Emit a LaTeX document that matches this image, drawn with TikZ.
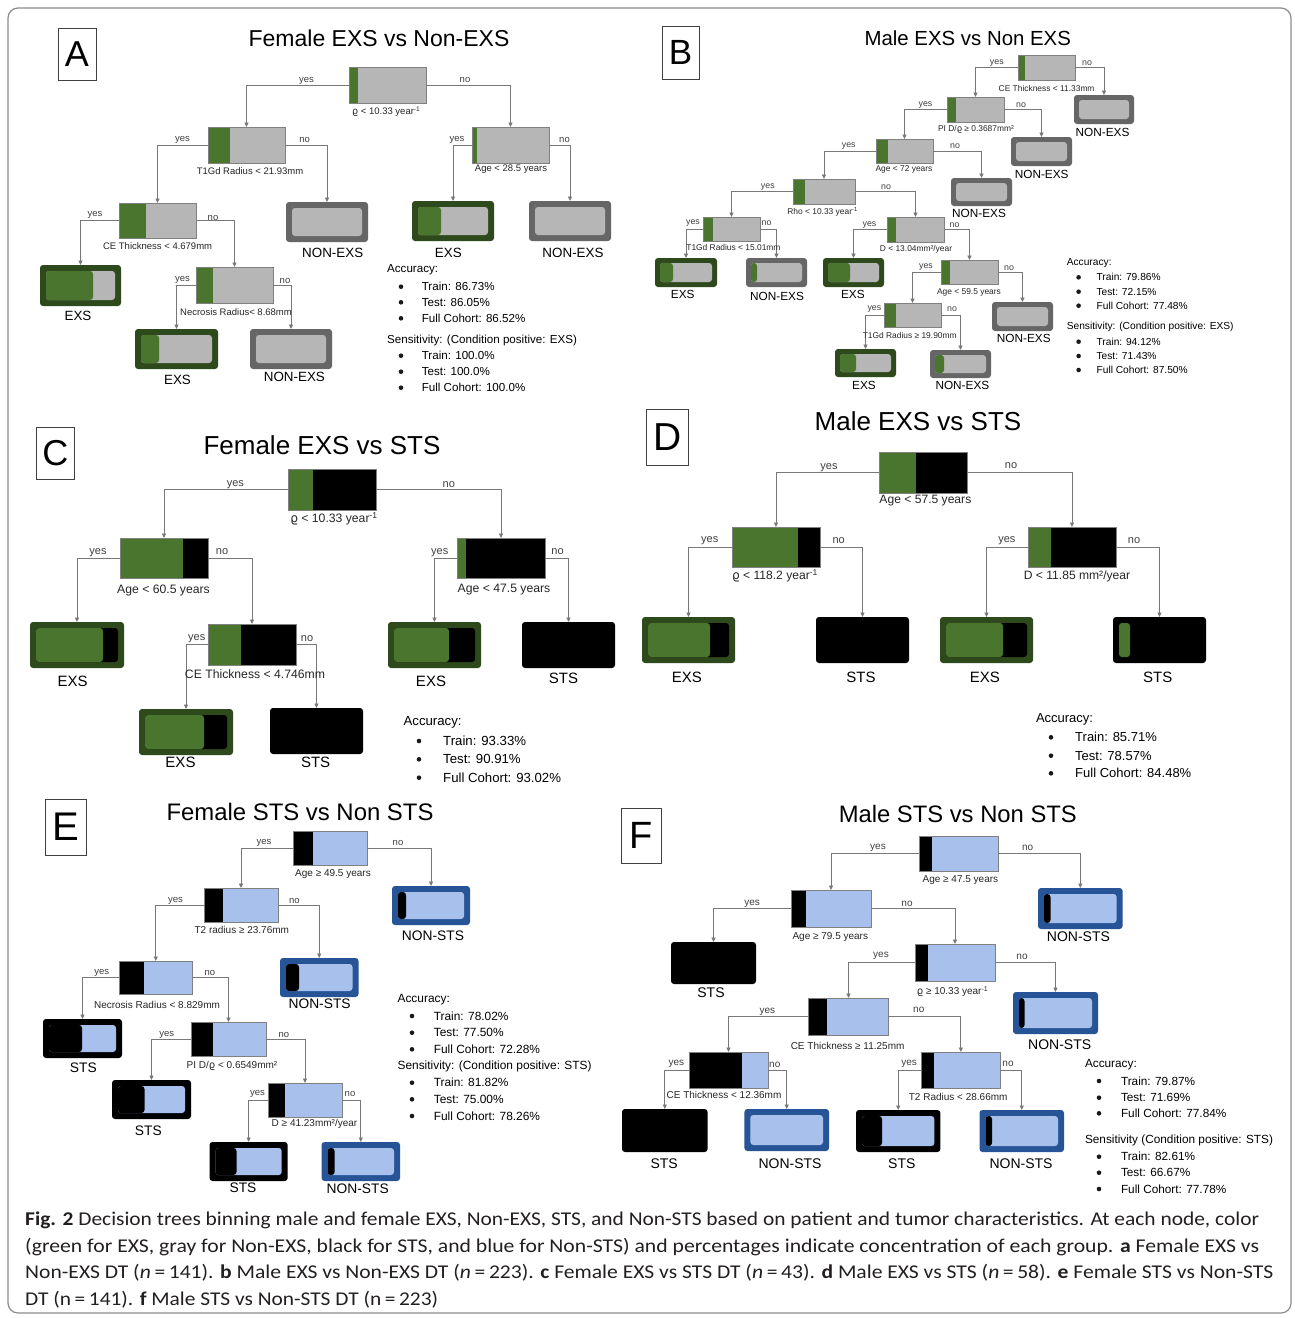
\documentclass[tikz,border=0pt]{standalone}
\usepackage{fontspec}
\usepackage{graphicx}
\setmainfont{Liberation Sans}
\newfontfamily\dvfont{DejaVu Sans}
\newfontfamily\capf{Carlito}
\usetikzlibrary{arrows.meta}
\newcommand\fsz[1]{\fontsize{#1}{#1}\selectfont}
\newcommand\rhoo{{\dvfont ϱ}}
\definecolor{gr}{RGB}{74,117,46}
\definecolor{gb}{RGB}{46,74,28}
\definecolor{gy}{RGB}{182,182,182}
\definecolor{gyb}{RGB}{102,102,102}
\definecolor{bl}{RGB}{168,192,236}
\definecolor{blb}{RGB}{38,84,150}
\definecolor{ln}{RGB}{120,120,120}
\definecolor{ol}{RGB}{128,128,128}
\definecolor{captx}{RGB}{35,31,32}
\def\lfin{6}
% decision box: name, x1,y1,x2,y2, left colour, right colour, left width
\newcommand\dnode[8]{\node[dbox,fill=#7,minimum width={#4-#2},minimum height={#5-#3},
  path picture={\fill[#6] (path picture bounding box.south west) rectangle ([xshift=#8pt]path picture bounding box.north west);}]
  (#1) at ({(#2+#4)/2},{(#3+#5)/2}) {};}
% leaf box: name, x1,y1,x2,y2, border colour, left colour, right colour, left width
\newcommand\lnode[9]{\node[lbox,fill=#6,minimum width={#4-#2},minimum height={#5-#3},
  path picture={\fill[#8] ([shift={(\lfin pt,\lfin pt)}]path picture bounding box.south west) rectangle ([shift={(-\lfin pt,-\lfin pt)}]path picture bounding box.north east);
  \fill[#7] ([shift={(\lfin pt,\lfin pt)}]path picture bounding box.south west) rectangle ([shift={(\lfin pt+#9pt,-\lfin pt)}]path picture bounding box.north west);}]
  (#1) at ({(#2+#4)/2},{(#3+#5)/2}) {};}
% bullet line: name, bullet x, text x, y, size, text
\newcommand\bline[6]{\node[bdot] (#1b) at (#2,#4) {};
  \node[sttl=#5,anchor=west] (#1) at (#3,#4) {#6};}
\tikzset{
  dbox/.style={draw=ol,line width=0.9pt,inner sep=0pt,outer sep=0pt},
  lbox/.style={rounded corners=3pt,inner sep=0pt,outer sep=0pt},
  conn/.style={draw=ln,line width=0.9pt,-{Triangle[length=4.5pt,width=4pt]}},
  cnd/.style={inner sep=0pt,font=\fsz{#1},text=black!85,yshift=-1pt},
  yn/.style={inner sep=0pt,font=\fsz{#1},text=black!75},
  lfl/.style={inner sep=0pt,font=\fsz{#1}},
  sttl/.style={inner sep=0pt,font=\fsz{#1}},
  ttl/.style={inner sep=0pt,font=\fsz{#1}},
  bdot/.style={circle,fill=black!90,inner sep=0pt,minimum size=4.6pt},
  letr/.style={draw=black!75,line width=0.8pt,inner sep=0pt,font=\fsz{#1}},
  capl/.style={inner sep=0pt,anchor=west,text=captx},
}
\begin{document}
\begin{tikzpicture}[x=1pt,y=-1pt]
\fill[white] (0,0) rectangle (1295,1318);
\useasboundingbox (0,0) rectangle (1295,1318);
\draw[draw=black!45,line width=1.2pt,rounded corners=10pt] (8,8) rectangle (1291,1313);

%%%%%%%%%%%%%%%% Panel A
\node[letr=36,minimum width=38,minimum height=52] (Alet) at (77,54) {A};
\node[ttl=23] (Atitle) at (379,38) {Female EXS vs Non-EXS};
\def\lfin{6}
\dnode{a1}{349}{67}{426}{103}{gr}{gy}{9}
\dnode{a2}{208}{127}{285}{163}{gr}{gy}{22}
\dnode{a3}{472}{127}{549}{163}{gr}{gy}{5}
\dnode{a4}{119}{203}{196}{238}{gr}{gy}{27}
\lnode{a5}{286}{202}{368}{242}{gyb}{gy}{gy}{0}
\lnode{a6}{412}{201}{494}{241}{gb}{gr}{gy}{23}
\lnode{a7}{529}{201}{611}{241}{gyb}{gy}{gy}{0}
\lnode{a8}{40}{265}{121}{306}{gb}{gr}{gy}{47}
\dnode{a9}{196}{267}{273}{303}{gr}{gy}{17}
\lnode{a10}{135}{329}{218}{369}{gb}{gr}{gy}{18}
\lnode{a11}{250}{329}{332}{369}{gyb}{gy}{gy}{0}
\draw[conn] (a1.west) -| (a2.north);
\draw[conn] (a1.east) -| (a3.north);
\draw[conn] (a2.west) -| (a4.north);
\draw[conn] (a2.east) -| (a5.north);
\draw[conn] (a3.west) -| (a6.north);
\draw[conn] (a3.east) -| (a7.north);
\draw[conn] (a4.west) -| (a8.north);
\draw[conn] (a4.east) -| (a9.north);
\draw[conn] (a9.west) -| (a10.north);
\draw[conn] (a9.east) -| (a11.north);
\node[yn=9.5] (ay1) at (306.6,80.7) {yes};
\node[yn=9.5] (an1) at (465,80) {no};
\node[yn=9.5] (ay2) at (182.5,140) {yes};
\node[yn=9.5] (an2) at (304.7,140) {no};
\node[yn=9.5] (ay3) at (457,140) {yes};
\node[yn=9.5] (an3) at (564.5,140) {no};
\node[yn=9.5] (ay4) at (95,215) {yes};
\node[yn=9.5] (an4) at (213,218) {no};
\node[yn=9.5] (ay5) at (182.5,280) {yes};
\node[yn=9.5] (an5) at (285,281) {no};
\node[cnd=9.5] (ac1) at (386.3,110.7) {\rhoo{} < 10.33 year\textsuperscript{-1}};
\node[cnd=9.5] (ac2) at (250,170) {T1Gd Radius < 21.93mm};
\node[cnd=9.5] (ac3) at (511,168) {Age < 28.5 years};
\node[cnd=9.5] (ac4) at (157.6,245) {CE Thickness < 4.679mm};
\node[cnd=9.5] (ac5) at (236,311) {Necrosis Radius< 8.68mm};
\node[lfl=13.4] (al1) at (332.7,253.3) {NON-EXS};
\node[lfl=13.4] (al2) at (448.4,252.7) {EXS};
\node[lfl=13.4] (al3) at (573,252.7) {NON-EXS};
\node[lfl=13.4] (al4) at (78,316) {EXS};
\node[lfl=13.4] (al5) at (177.5,380) {EXS};
\node[lfl=13.4] (al6) at (294.4,377) {NON-EXS};
\node[sttl=11.6,anchor=west] (aacc) at (387,270) {Accuracy:};
\bline{as1}{401}{421.6}{286.7}{11.6}{Train: 86.73\%}
\bline{as2}{401}{421.6}{302.3}{11.6}{Test: 86.05\%}
\bline{as3}{401}{421.6}{318.3}{11.6}{Full Cohort: 86.52\%}
\node[sttl=11.6,anchor=west] (asen) at (387,340) {Sensitivity: (Condition positive: EXS)};
\bline{as4}{401}{421.6}{355.7}{11.6}{Train: 100.0\%}
\bline{as5}{401}{421.6}{371.7}{11.6}{Test: 100.0\%}
\bline{as6}{401}{421.6}{387.7}{11.6}{Full Cohort: 100.0\%}

%%%%%%%%%%%%%%%% Panel B
\node[letr=35,minimum width=37,minimum height=53] (Blet) at (680.5,52.5) {B};
\node[ttl=20.4] (Btitle) at (967.8,38) {Male EXS vs Non EXS};
\def\lfin{5}
\dnode{b1}{1018}{55}{1075}{80}{gr}{gy}{7}
\lnode{b2}{1074}{95}{1134}{124}{gyb}{gy}{gy}{0}
\dnode{b3}{947}{97}{1004}{122}{gr}{gy}{9}
\lnode{b4}{1011}{137}{1072}{166}{gyb}{gy}{gy}{0}
\dnode{b5}{876}{139}{933}{163}{gr}{gy}{12}
\lnode{b6}{951}{178}{1012}{206}{gyb}{gy}{gy}{0}
\dnode{b7}{793}{179}{855}{204}{gr}{gy}{12}
\dnode{b8}{703}{217}{760}{241}{gr}{gy}{10}
\dnode{b9}{887}{217}{944}{242}{gr}{gy}{9}
\lnode{b10}{655}{258}{717}{287}{gb}{gr}{gy}{13}
\lnode{b11}{746}{258}{807}{287}{gyb}{gr}{gy}{6}
\lnode{b12}{823}{258}{884}{287}{gb}{gr}{gy}{22}
\dnode{b13}{941}{260}{998}{284}{gr}{gy}{9}
\lnode{b14}{992}{302}{1053}{331}{gyb}{gy}{gy}{0}
\dnode{b15}{884}{303}{941}{327}{gr}{gy}{12}
\lnode{b16}{835}{349}{896}{377}{gb}{gr}{gy}{16}
\lnode{b17}{930}{350}{991}{378}{gyb}{gr}{gy}{9}
\draw[conn] (b1.west) -| (b3.north);
\draw[conn] (b1.east) -| (b2.north);
\draw[conn] (b3.west) -| (b5.north);
\draw[conn] (b3.east) -| (b4.north);
\draw[conn] (b5.west) -| (b7.north);
\draw[conn] (b5.east) -| (b6.north);
\draw[conn] (b7.west) -| (b8.north);
\draw[conn] (b7.east) -| (b9.north);
\draw[conn] (b8.west) -| (b10.north);
\draw[conn] (b8.east) -| (b11.north);
\draw[conn] (b9.west) -| (b12.north);
\draw[conn] (b9.east) -| (b13.north);
\draw[conn] (b13.west) -| (b15.north);
\draw[conn] (b13.east) -| (b14.north);
\draw[conn] (b15.west) -| (b16.north);
\draw[conn] (b15.east) -| (b17.north);
\node[yn=8.8] (by1) at (996.8,63.3) {yes};
\node[yn=8.8] (bn1) at (1087,63.3) {no};
\node[yn=8.8] (by2) at (925.5,105) {yes};
\node[yn=8.8] (bn2) at (1021,105) {no};
\node[yn=8.8] (by3) at (848.7,146) {yes};
\node[yn=8.8] (bn3) at (955,146) {no};
\node[yn=8.8] (by4) at (767.8,186.7) {yes};
\node[yn=8.8] (bn4) at (886,186.7) {no};
\node[yn=8.8] (by5) at (693,222.7) {yes};
\node[yn=8.8] (bn5) at (766.6,222.7) {no};
\node[yn=8.8] (by6) at (869.5,225) {yes};
\node[yn=8.8] (bn6) at (954.5,225) {no};
\node[yn=8.8] (by7) at (926,266.7) {yes};
\node[yn=8.8] (bn7) at (1009,268) {no};
\node[yn=8.8] (by8) at (874.4,309) {yes};
\node[yn=8.8] (bn8) at (952,309) {no};
\node[cnd=8.4] (bc1) at (1046.6,87.7) {CE Thickness < 11.33mm};
\node[cnd=8.4] (bc2) at (976,128.3) {PI D/\rhoo{} ≥ 0.3687mm²};
\node[cnd=8.4] (bc3) at (904,168) {Age < 72 years};
\node[cnd=8.4] (bc4) at (822.6,210.7) {Rho < 10.33 year\textsuperscript{-1}};
\node[cnd=8.4] (bc5) at (733.4,246.7) {T1Gd Radius < 15.01mm};
\node[cnd=8.4] (bc6) at (916,248) {D < 13.04mm²/year};
\node[cnd=8.4] (bc7) at (969,291) {Age < 59.5 years};
\node[cnd=8.4] (bc8) at (909.7,334) {T1Gd Radius ≥ 19.90mm};
\node[lfl=11.8] (bl1) at (1102.6,132.7) {NON-EXS};
\node[lfl=11.8] (bl2) at (1041.7,174) {NON-EXS};
\node[lfl=11.8] (bl3) at (979,213) {NON-EXS};
\node[lfl=11.8] (bl4) at (682.7,294) {EXS};
\node[lfl=11.8] (bl5) at (777,296) {NON-EXS};
\node[lfl=11.8] (bl6) at (852.9,294) {EXS};
\node[lfl=11.8] (bl7) at (1023.8,338) {NON-EXS};
\node[lfl=11.8] (bl8) at (864,385) {EXS};
\node[lfl=11.8] (bl9) at (962.4,385.7) {NON-EXS};
\node[sttl=10.2,anchor=west] (bacc) at (1066.6,263.3) {Accuracy:};
\bline{bs1}{1078.6}{1096.4}{277.3}{10.2}{Train: 79.86\%}
\bline{bs2}{1078.6}{1096.4}{291.7}{10.2}{Test: 72.15\%}
\bline{bs3}{1078.6}{1096.4}{305.7}{10.2}{Full Cohort: 77.48\%}
\node[sttl=10.2,anchor=west] (bsen) at (1066.6,327.3) {Sensitivity: (Condition positive: EXS)};
\bline{bs4}{1078.6}{1096.4}{341.7}{10.2}{Train: 94.12\%}
\bline{bs5}{1078.6}{1096.4}{356}{10.2}{Test: 71.43\%}
\bline{bs6}{1078.6}{1096.4}{370}{10.2}{Full Cohort: 87.50\%}

%%%%%%%%%%%%%%%% Panel C
\node[letr=36,minimum width=38.5,minimum height=52] (Clet) at (55.3,453) {C};
\node[ttl=26] (Ctitle) at (322,445) {Female EXS vs STS};
\def\lfin{6}
\dnode{c1}{288}{469}{376}{510}{gr}{black}{24.5}
\dnode{c2}{120}{538}{208}{578}{gr}{black}{63}
\dnode{c3}{457}{538}{545}{578}{gr}{black}{8.7}
\lnode{c4}{30}{622}{124}{668}{gb}{gr}{black}{67}
\dnode{c5}{208}{624}{296}{665}{gr}{black}{33}
\lnode{c6}{139}{709}{233}{755}{gb}{gr}{black}{59}
\lnode{c7}{270}{708}{363}{754}{black}{black}{black}{0}
\lnode{c8}{388}{622}{481}{668}{gb}{gr}{black}{55}
\lnode{c9}{522}{622}{615}{668}{black}{black}{black}{0}
\draw[conn] (c1.west) -| (c2.north);
\draw[conn] (c1.east) -| (c3.north);
\draw[conn] (c2.west) -| (c4.north);
\draw[conn] (c2.east) -| (c5.north);
\draw[conn] (c5.west) -| (c6.north);
\draw[conn] (c5.east) -| (c7.north);
\draw[conn] (c3.west) -| (c8.north);
\draw[conn] (c3.east) -| (c9.north);
\node[yn=11] (cy1) at (235.4,485) {yes};
\node[yn=11] (cn1) at (448.8,485) {no};
\node[yn=11] (cy2) at (98,553) {yes};
\node[yn=11] (cn2) at (222,552) {no};
\node[yn=11] (cy3) at (196.7,639) {yes};
\node[yn=11] (cn3) at (307,639) {no};
\node[yn=11] (cy4) at (439.8,553) {yes};
\node[yn=11] (cn4) at (557.5,551.7) {no};
\node[cnd=12.2] (cc1) at (334,518) {\rhoo{} < 10.33 year\textsuperscript{-1}};
\node[cnd=12.2] (cc2) at (163.5,589) {Age < 60.5 years};
\node[cnd=12.2] (cc3) at (255,672.7) {CE Thickness < 4.746mm};
\node[cnd=12.2] (cc4) at (504,589) {Age < 47.5 years};
\node[lfl=15] (cl1) at (72.6,681) {EXS};
\node[lfl=15] (cl2) at (180.5,762.7) {EXS};
\node[lfl=15] (cl3) at (315.6,762.7) {STS};
\node[lfl=15] (cl4) at (431,681) {EXS};
\node[lfl=15] (cl5) at (563.5,678) {STS};
\node[sttl=13.2,anchor=west] (cacc) at (403.4,722.7) {Accuracy:};
\bline{cs1}{419}{443}{741}{13.2}{Train: 93.33\%}
\bline{cs2}{419}{443}{759.3}{13.2}{Test: 90.91\%}
\bline{cs3}{419}{443}{777.7}{13.2}{Full Cohort: 93.02\%}

%%%%%%%%%%%%%%%% Panel D
\node[letr=39,minimum width=41.4,minimum height=56] (Dlet) at (667.3,437) {D};
\node[ttl=26] (Dtitle) at (918,420.7) {Male EXS vs STS};
\dnode{d1}{879}{452}{967}{493}{gr}{black}{37}
\dnode{d2}{732}{527}{820}{567}{gr}{black}{66}
\dnode{d3}{1028}{527}{1116}{567}{gr}{black}{22.5}
\lnode{d4}{642}{617}{735}{663}{gb}{gr}{black}{62}
\lnode{d5}{816}{617}{909}{663}{black}{black}{black}{0}
\lnode{d6}{940}{617}{1033}{663}{gb}{gr}{black}{57}
\lnode{d7}{1113}{617}{1206}{663}{black}{gr}{black}{11}
\draw[conn] (d1.west) -| (d2.north);
\draw[conn] (d1.east) -| (d3.north);
\draw[conn] (d2.west) -| (d4.north);
\draw[conn] (d2.east) -| (d5.north);
\draw[conn] (d3.west) -| (d6.north);
\draw[conn] (d3.east) -| (d7.north);
\node[yn=11] (dy1) at (829,468) {yes};
\node[yn=11] (dn1) at (1011,466) {no};
\node[yn=11] (dy2) at (709.7,541) {yes};
\node[yn=11] (dn2) at (838.7,541) {no};
\node[yn=11] (dy3) at (1006.8,541) {yes};
\node[yn=11] (dn3) at (1134,541) {no};
\node[cnd=12.1] (dc1) at (925.4,500) {Age < 57.5 years};
\node[cnd=12.1] (dc2) at (775,575) {\rhoo{} < 118.2 year\textsuperscript{-1}};
\node[cnd=12.1] (dc3) at (1077,575) {D < 11.85 mm²/year};
\node[lfl=15] (dl1) at (686.8,677.7) {EXS};
\node[lfl=15] (dl2) at (861,677.7) {STS};
\node[lfl=15] (dl3) at (984.8,677.7) {EXS};
\node[lfl=15] (dl4) at (1157.8,677.7) {STS};
\node[sttl=13,anchor=west] (dacc) at (1035.8,719.3) {Accuracy:};
\bline{ds1}{1051}{1075}{737.3}{13}{Train: 85.71\%}
\bline{ds2}{1051}{1075}{755.7}{13}{Test: 78.57\%}
\bline{ds3}{1051}{1075}{773.3}{13}{Full Cohort: 84.48\%}

%%%%%%%%%%%%%%%% Panel E
\node[letr=40,minimum width=41,minimum height=56] (Elet) at (65.5,827) {E};
\node[ttl=23.9] (Etitle) at (300,811.7) {Female STS vs Non STS};
\dnode{e1}{293.5}{831}{367}{865}{black}{bl}{19.5}
\lnode{e2}{392}{886}{470}{925}{blb}{black}{bl}{8}
\dnode{e3}{204}{888}{278}{922}{black}{bl}{19}
\lnode{e4}{280}{958}{358.5}{997}{blb}{black}{bl}{13}
\dnode{e5}{119}{961}{192.5}{994}{black}{bl}{25}
\lnode{e6}{43}{1019}{122}{1058}{black}{black}{bl}{33}
\dnode{e7}{191}{1022}{266}{1056}{black}{bl}{21.5}
\lnode{e8}{112}{1080}{191}{1119}{black}{black}{bl}{26.5}
\dnode{e9}{268}{1083}{342}{1117}{black}{bl}{16.7}
\lnode{e10}{209.5}{1142}{287.7}{1181}{black}{black}{bl}{21}
\lnode{e11}{321.6}{1142}{400}{1181}{blb}{black}{bl}{7}
\draw[conn] (e1.west) -| (e3.north);
\draw[conn] (e1.east) -| (e2.north);
\draw[conn] (e3.west) -| (e5.north);
\draw[conn] (e3.east) -| (e4.north);
\draw[conn] (e5.west) -| (e6.north);
\draw[conn] (e5.east) -| (e7.north);
\draw[conn] (e7.west) -| (e8.north);
\draw[conn] (e7.east) -| (e9.north);
\draw[conn] (e9.west) -| (e10.north);
\draw[conn] (e9.east) -| (e11.north);
\node[yn=9.5] (ey1) at (264,842.7) {yes};
\node[yn=9.5] (en1) at (398,842.7) {no};
\node[yn=9.5] (ey2) at (175.6,900.7) {yes};
\node[yn=9.5] (en2) at (294.3,901) {no};
\node[yn=9.5] (ey3) at (101.7,973) {yes};
\node[yn=9.5] (en3) at (209.9,973) {no};
\node[yn=9.5] (ey4) at (166.7,1035) {yes};
\node[yn=9.5] (en4) at (283.8,1035) {no};
\node[yn=9.5] (ey5) at (257.4,1094.3) {yes};
\node[yn=9.5] (en5) at (350,1094.3) {no};
\node[cnd=10] (ec1) at (333,873.3) {Age ≥ 49.5 years};
\node[cnd=10] (ec2) at (241.8,929) {T2 radius ≥ 23.76mm};
\node[cnd=10] (ec3) at (157,1004) {Necrosis Radius < 8.829mm};
\node[cnd=10] (ec4) at (232,1065) {PI D/\rhoo{} < 0.6549mm²};
\node[cnd=10] (ec5) at (314.5,1123) {D ≥ 41.23mm²/year};
\node[lfl=13.8] (el1) at (433,935.7) {NON-STS};
\node[lfl=13.8] (el2) at (319.6,1004) {NON-STS};
\node[lfl=13.8] (el3) at (83.4,1067.7) {STS};
\node[lfl=13.8] (el4) at (148.4,1130.7) {STS};
\node[lfl=13.8] (el5) at (243,1188) {STS};
\node[lfl=13.8] (el6) at (357.7,1189) {NON-STS};
\node[sttl=11.9,anchor=west] (eacc) at (397.4,999.3) {Accuracy:};
\bline{es1}{412}{433.6}{1016}{11.9}{Train: 78.02\%}
\bline{es2}{412}{433.6}{1032.7}{11.9}{Test: 77.50\%}
\bline{es3}{412}{433.6}{1049.3}{11.9}{Full Cohort: 72.28\%}
\node[sttl=11.9,anchor=west] (esen) at (397.4,1066) {Sensitivity: (Condition positive: STS)};
\bline{es4}{412}{433.6}{1082.7}{11.9}{Train: 81.82\%}
\bline{es5}{412}{433.6}{1099.3}{11.9}{Test: 75.00\%}
\bline{es6}{412}{433.6}{1116}{11.9}{Full Cohort: 78.26\%}

%%%%%%%%%%%%%%%% Panel F
\node[letr=38,minimum width=40,minimum height=55] (Flet) at (641,835.5) {F};
\node[ttl=23.8] (Ftitle) at (957.8,814) {Male STS vs Non STS};
\dnode{f1}{919}{836}{998}{871}{black}{bl}{13}
\lnode{f2}{1038}{888}{1122.6}{929}{blb}{black}{bl}{6.5}
\dnode{f3}{791}{890}{871}{927}{black}{bl}{15}
\lnode{f4}{671}{942}{756}{984}{black}{black}{black}{0}
\dnode{f5}{915}{944}{995}{981}{black}{bl}{12.6}
\lnode{f6}{1013}{992}{1098}{1034}{blb}{black}{bl}{5.5}
\dnode{f7}{808.6}{998}{888.4}{1035}{black}{bl}{18}
\dnode{f8}{689}{1052}{768}{1088}{black}{bl}{53}
\dnode{f9}{921.4}{1052}{1000.3}{1088}{black}{bl}{12.6}
\lnode{f10}{622}{1109}{707.6}{1152}{black}{black}{black}{0}
\lnode{f11}{744.4}{1109}{829}{1151}{blb}{bl}{bl}{0}
\lnode{f12}{856}{1110}{940.4}{1152}{black}{black}{bl}{20}
\lnode{f13}{979.5}{1110}{1064}{1152}{blb}{black}{bl}{6.5}
\draw[conn] (f1.west) -| (f3.north);
\draw[conn] (f1.east) -| (f2.north);
\draw[conn] (f3.west) -| (f4.north);
\draw[conn] (f3.east) -| (f5.north);
\draw[conn] (f5.west) -| (f7.north);
\draw[conn] (f5.east) -| (f6.north);
\draw[conn] (f7.west) -| (f8.north);
\draw[conn] (f7.east) -| (f9.north);
\draw[conn] (f8.west) -| (f10.north);
\draw[conn] (f8.east) -| (f11.north);
\draw[conn] (f9.west) -| (f12.north);
\draw[conn] (f9.east) -| (f13.north);
\node[yn=10] (fy1) at (878,848.3) {yes};
\node[yn=10] (fn1) at (1027.6,847.7) {no};
\node[yn=10] (fy2) at (752.2,904) {yes};
\node[yn=10] (fn2) at (907,904) {no};
\node[yn=10] (fy3) at (881,956) {yes};
\node[yn=10] (fn3) at (1022,956.7) {no};
\node[yn=10] (fy4) at (767.4,1011.7) {yes};
\node[yn=10] (fn4) at (918.8,1010) {no};
\node[yn=10] (fy5) at (676.3,1064.3) {yes};
\node[yn=10] (fn5) at (774.8,1065) {no};
\node[yn=10] (fy6) at (909.2,1064.3) {yes};
\node[yn=10] (fn6) at (1008,1064.3) {no};
\node[cnd=10] (fc1) at (960.4,879.3) {Age ≥ 47.5 years};
\node[cnd=10] (fc2) at (830.3,936) {Age ≥ 79.5 years};
\node[cnd=10] (fc3) at (952.6,990.7) {\rhoo{} ≥ 10.33 year\textsuperscript{-1}};
\node[cnd=10] (fc4) at (847.6,1045) {CE Thickness ≥ 11.25mm};
\node[cnd=10] (fc5) at (724,1094.3) {CE Thickness < 12.36mm};
\node[cnd=10] (fc6) at (958.2,1096) {T2 Radius < 28.66mm};
\node[lfl=14] (fl1) at (1078.4,936.7) {NON-STS};
\node[lfl=14] (fl2) at (711,992.3) {STS};
\node[lfl=14] (fl3) at (1059.7,1044.3) {NON-STS};
\node[lfl=14] (fl4) at (664.2,1164) {STS};
\node[lfl=14] (fl5) at (790,1164) {NON-STS};
\node[lfl=14] (fl6) at (901.8,1164) {STS};
\node[lfl=14] (fl7) at (1021,1164) {NON-STS};
\node[sttl=11.8,anchor=west] (facc) at (1084.8,1065) {Accuracy:};
\bline{fs1}{1099}{1120.8}{1081}{11.8}{Train: 79.87\%}
\bline{fs2}{1099}{1120.8}{1097.7}{11.8}{Test: 71.69\%}
\bline{fs3}{1099}{1120.8}{1113.3}{11.8}{Full Cohort: 77.84\%}
\node[sttl=11.8,anchor=west] (fsen) at (1084.8,1140) {Sensitivity (Condition positive: STS)};
\bline{fs4}{1099}{1120.8}{1156.7}{11.8}{Train: 82.61\%}
\bline{fs5}{1099}{1120.8}{1172.7}{11.8}{Test: 66.67\%}
\bline{fs6}{1099}{1120.8}{1189}{11.8}{Full Cohort: 77.78\%}

%%%%%%%%%%%%%%%% Caption
\node[capl] (cap1) at (25,1220) {\resizebox{1234pt}{\height}{\capf\fsz{19.5}\textbf{Fig. 2} Decision trees binning male and female EXS, Non-EXS, STS, and Non-STS based on patient and tumor characteristics. At each node, color}};
\node[capl] (cap2) at (25,1247) {\resizebox{1234pt}{\height}{\capf\fsz{19.5}(green for EXS, gray for Non-EXS, black for STS, and blue for Non-STS) and percentages indicate concentration of each group. \textbf{a} Female EXS vs}};
\node[capl] (cap3) at (25,1273) {\resizebox{1248pt}{\height}{\capf\fsz{19.5}Non-EXS DT (\textit{n}\,=\,141). \textbf{b} Male EXS vs Non-EXS DT (\textit{n}\,=\,223). \textbf{c} Female EXS vs STS DT (\textit{n}\,=\,43). \textbf{d} Male EXS vs STS (\textit{n}\,=\,58). \textbf{e} Female STS vs Non-STS}};
\node[capl] (cap4) at (25,1300) {\resizebox{413pt}{\height}{\capf\fsz{19.5}DT (n\,=\,141). \textbf{f} Male STS vs Non-STS DT (n\,=\,223)}};
\end{tikzpicture}
\end{document}
